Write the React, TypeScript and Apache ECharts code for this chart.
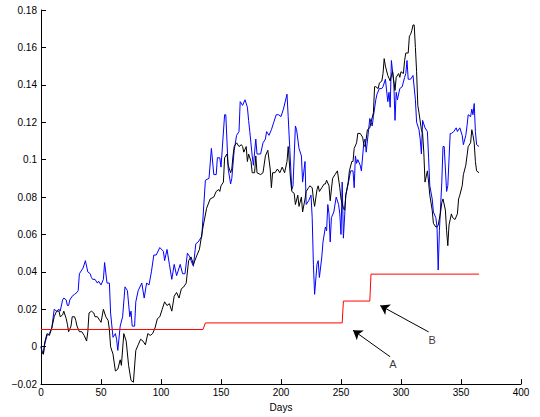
import React, { useEffect, useRef } from "react";
import * as echarts from "echarts";

const blueSeries: [number, number][] = [
  [0,0.000],[1,-0.003],[2,-0.004],[3,0.001],[5,0.006],[7,0.007],[9,0.010],[11,0.020],[13,0.019],[15,0.020],[16,0.019],[18,0.025],[19,0.026],[21,0.025],[22,0.022],[23,0.022],[24,0.025],[26,0.027],[28,0.028],[30,0.029],[31,0.030],[32,0.039],[34,0.041],[35,0.042],[37,0.046],[39,0.040],[41,0.039],[42,0.037],[43,0.036],[45,0.036],[47,0.034],[48,0.035],[50,0.033],[52,0.036],[53,0.045],[55,0.034],[57,0.034],[58,0.018],[60,0.005],[62,0.007],[63,0.004],[64,-0.002],[66,0.011],[68,0.016],[70,0.032],[72,0.030],[74,0.016],[75,0.019],[76,0.011],[78,0.011],[79,0.024],[81,0.030],[84,0.034],[86,0.026],[88,0.034],[90,0.033],[92,0.040],[94,0.049],[96,0.049],[99,0.053],[102,0.051],[103,0.046],[105,0.052],[107,0.044],[109,0.036],[111,0.044],[113,0.038],[116,0.044],[118,0.039],[120,0.039],[122,0.050],[124,0.048],[125,0.046],[127,0.043],[129,0.055],[131,0.056],[134,0.059],[137,0.089],[140,0.090],[142,0.106],[144,0.092],[146,0.092],[147,0.101],[149,0.101],[150,0.096],[153,0.124],[154,0.124],[156,0.095],[158,0.087],[159,0.090],[161,0.105],[163,0.113],[165,0.115],[166,0.131],[168,0.129],[170,0.132],[172,0.128],[173,0.121],[174,0.115],[176,0.102],[177,0.097],[179,0.111],[180,0.103],[183,0.103],[185,0.109],[187,0.111],[188,0.115],[190,0.113],[192,0.116],[194,0.120],[196,0.124],[198,0.124],[200,0.123],[202,0.127],[205,0.135],[206,0.123],[209,0.084],[210,0.086],[212,0.118],[213,0.116],[215,0.106],[217,0.102],[218,0.088],[220,0.099],[221,0.076],[223,0.078],[225,0.081],[226,0.069],[227,0.044],[228,0.028],[230,0.044],[231,0.046],[232,0.037],[234,0.048],[235,0.056],[237,0.064],[238,0.062],[239,0.076],[240,0.071],[241,0.056],[242,0.069],[244,0.072],[246,0.080],[248,0.076],[249,0.071],[250,0.060],[251,0.088],[252,0.058],[254,0.081],[256,0.087],[258,0.094],[260,0.094],[261,0.085],[262,0.102],[263,0.098],[264,0.100],[266,0.097],[267,0.094],[269,0.109],[270,0.111],[271,0.104],[273,0.116],[274,0.122],[276,0.118],[277,0.123],[279,0.132],[280,0.135],[282,0.138],[284,0.138],[285,0.139],[287,0.143],[289,0.131],[290,0.136],[291,0.128],[292,0.153],[294,0.141],[295,0.121],[296,0.136],[297,0.132],[299,0.138],[301,0.139],[303,0.144],[304,0.146],[305,0.153],[306,0.143],[308,0.143],[310,0.145],[312,0.132],[313,0.120],[315,0.116],[316,0.111],[317,0.103],[318,0.121],[320,0.117],[322,0.115],[323,0.101],[324,0.086],[326,0.079],[327,0.072],[329,0.069],[330,0.064],[331,0.041],[332,0.062],[334,0.088],[335,0.107],[336,0.107],[338,0.083],[339,0.086],[341,0.114],[342,0.114],[344,0.115],[346,0.117],[347,0.115],[349,0.117],[351,0.113],[352,0.108],[354,0.113],[355,0.118],[356,0.124],[358,0.123],[359,0.127],[360,0.124],[361,0.130],[362,0.115],[363,0.108],[365,0.107]
];

const blackSeries: [number, number][] = [
  [0,0.000],[1,-0.003],[2,-0.004],[3,0.002],[5,0.007],[7,0.006],[9,0.010],[11,0.016],[13,0.019],[15,0.019],[16,0.016],[18,0.017],[19,0.019],[21,0.015],[22,0.012],[23,0.008],[25,0.011],[26,0.016],[28,0.016],[29,0.014],[30,0.011],[32,0.008],[34,0.008],[36,0.006],[38,0.003],[39,0.008],[40,0.018],[42,0.019],[44,0.018],[45,0.016],[47,0.016],[49,0.014],[50,0.013],[52,0.020],[54,0.016],[56,0.014],[57,0.009],[58,0.000],[60,-0.004],[62,-0.013],[64,-0.012],[66,-0.007],[67,-0.010],[69,0.007],[71,0.003],[73,-0.010],[75,-0.018],[77,-0.019],[79,-0.002],[81,0.001],[83,0.004],[85,0.003],[87,0.001],[89,0.007],[91,0.006],[93,0.007],[95,0.010],[97,0.015],[99,0.016],[101,0.020],[103,0.024],[105,0.022],[107,0.023],[109,0.019],[111,0.027],[113,0.029],[115,0.026],[117,0.031],[119,0.032],[121,0.034],[123,0.046],[125,0.048],[127,0.044],[130,0.049],[132,0.052],[135,0.064],[138,0.074],[141,0.079],[144,0.080],[146,0.083],[148,0.084],[149,0.083],[150,0.086],[152,0.088],[153,0.101],[155,0.103],[156,0.097],[158,0.093],[159,0.095],[160,0.102],[161,0.107],[163,0.109],[165,0.107],[167,0.108],[168,0.107],[169,0.104],[171,0.107],[172,0.099],[173,0.103],[175,0.099],[176,0.093],[178,0.093],[179,0.102],[180,0.093],[183,0.092],[185,0.093],[187,0.102],[189,0.105],[191,0.095],[192,0.085],[193,0.093],[195,0.093],[197,0.095],[199,0.093],[201,0.096],[203,0.093],[205,0.099],[206,0.107],[208,0.089],[209,0.083],[211,0.082],[212,0.076],[214,0.081],[215,0.075],[217,0.080],[218,0.072],[220,0.079],[221,0.083],[223,0.085],[224,0.086],[226,0.085],[227,0.079],[228,0.075],[230,0.084],[231,0.086],[232,0.083],[234,0.085],[236,0.087],[237,0.087],[238,0.089],[240,0.086],[241,0.078],[243,0.090],[245,0.092],[247,0.094],[249,0.085],[250,0.079],[252,0.074],[253,0.073],[254,0.081],[256,0.088],[257,0.094],[259,0.099],[260,0.099],[261,0.106],[263,0.109],[264,0.114],[266,0.114],[268,0.112],[269,0.108],[270,0.107],[271,0.111],[272,0.116],[274,0.117],[275,0.120],[277,0.125],[278,0.139],[279,0.139],[281,0.138],[282,0.141],[284,0.142],[285,0.146],[286,0.154],[287,0.150],[289,0.145],[291,0.142],[292,0.145],[293,0.147],[295,0.137],[296,0.144],[298,0.146],[299,0.144],[300,0.147],[302,0.146],[303,0.153],[304,0.157],[306,0.157],[307,0.166],[308,0.167],[309,0.169],[310,0.172],[311,0.172],[312,0.160],[313,0.147],[314,0.129],[315,0.125],[317,0.116],[318,0.114],[319,0.104],[320,0.088],[322,0.094],[323,0.088],[324,0.081],[326,0.073],[327,0.066],[329,0.064],[330,0.064],[331,0.065],[333,0.072],[334,0.077],[335,0.079],[337,0.073],[338,0.062],[339,0.054],[340,0.065],[342,0.071],[343,0.069],[345,0.068],[347,0.071],[348,0.079],[349,0.081],[351,0.086],[352,0.092],[354,0.097],[355,0.102],[356,0.107],[358,0.109],[359,0.116],[360,0.113],[361,0.109],[362,0.099],[363,0.094],[365,0.093]
];

const redSeries: [number, number][] = [
  [0,0.0092],[135,0.0092],[137,0.0127],[251,0.0127],[252,0.0244],[274,0.0244],[275,0.0388],[365,0.0388]
];

// annotation arrows: [tailDay, tailValue, tipDay, tipValue]
const arrowA = [291, -0.0054, 260, 0.0088];
const arrowB = [323, 0.0079, 282.7, 0.022];
const annotationLabels = [
  { name: "A", value: [293.3, -0.0094] },
  { name: "B", value: [325.9, 0.0035] },
];

const xTicks = { min: 0, max: 400, interval: 50 };
const yTicks = { min: -0.02, max: 0.18, interval: 0.02 };

const FONT = "'Liberation Sans', Arial, Helvetica, sans-serif";

export default function App() {
  const ref = useRef<HTMLDivElement>(null);
  useEffect(() => {
    if (!ref.current) return;
    const chart = echarts.init(ref.current, undefined, { renderer: "svg" });
    const axisCommon = {
      axisLine: { show: true, onZero: false, lineStyle: { color: "#000", width: 1 } },
      axisTick: { show: true, inside: true, length: 5, lineStyle: { color: "#000", width: 1 } },
      splitLine: { show: false },
    };
    chart.setOption({
      animation: false,
      backgroundColor: "#fff",
      textStyle: { fontFamily: FONT },
      grid: { left: 41, right: 19, top: 10, bottom: 29, containLabel: false },
      xAxis: {
        type: "value",
        ...xTicks,
        name: "Days",
        nameLocation: "middle",
        nameGap: 17,
        nameTextStyle: { fontFamily: FONT, fontSize: 10, color: "#000" },
        ...axisCommon,
        axisLabel: { fontFamily: FONT, fontSize: 10, color: "#000", margin: 3 },
      },
      yAxis: {
        type: "value",
        ...yTicks,
        ...axisCommon,
        axisLabel: {
          fontFamily: FONT,
          fontSize: 10,
          color: "#000",
          margin: 4,
          formatter: (v: number) => {
            const r = Math.round(v * 100) / 100;
            if (r === 0) return "0";
            return (r < 0 ? "\u2212" : "") + String(Math.abs(r));
          },
        },
      },
      series: [
        {
          type: "line",
          data: blueSeries,
          showSymbol: false,
          lineStyle: { color: "#0000ff", width: 1 },
          z: 2,
        },
        {
          type: "line",
          data: blackSeries,
          showSymbol: false,
          lineStyle: { color: "#000000", width: 1 },
          z: 3,
        },
        {
          type: "line",
          data: redSeries,
          showSymbol: false,
          lineStyle: { color: "#ff0000", width: 1 },
          z: 4,
        },
        {
          type: "scatter",
          data: annotationLabels,
          symbolSize: 0,
          silent: true,
          itemStyle: { color: "#000" },
          label: {
            show: true,
            position: "inside",
            formatter: (p: any) => p.name,
            fontFamily: FONT,
            fontSize: 11,
            color: "#000",
            textBorderWidth: 0,
          },
          markLine: {
            silent: true,
            symbol: ["none", "arrow"],
            symbolSize: 9,
            label: { show: false },
            lineStyle: { color: "#000", width: 1, type: "solid" },
            data: [
              [{ coord: [arrowA[0], arrowA[1]] }, { coord: [arrowA[2], arrowA[3]] }],
              [{ coord: [arrowB[0], arrowB[1]] }, { coord: [arrowB[2], arrowB[3]] }],
            ],
          },
          z: 5,
        },
      ],
    });
    return () => chart.dispose();
  }, []);
  return (
    <div
      ref={ref}
      style={{ position: "fixed", left: 0, top: 0, width: 540, height: 417, background: "#fff" }}
    />
  );
}
